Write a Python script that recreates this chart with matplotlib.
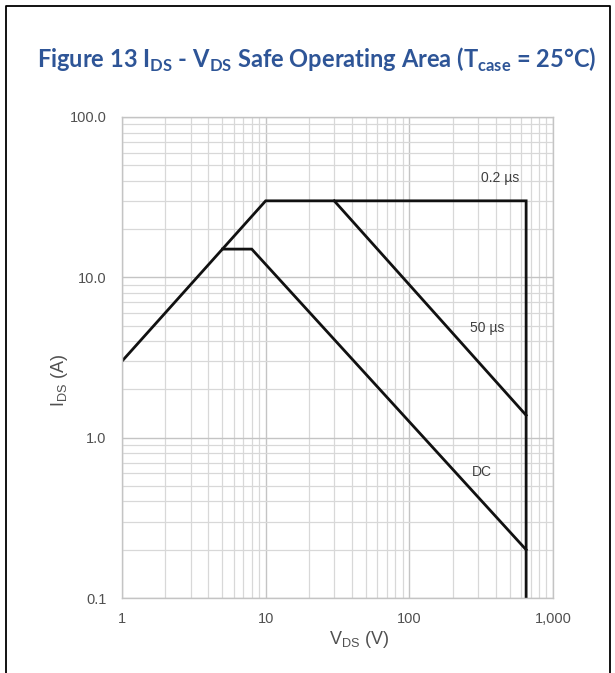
import matplotlib
matplotlib.use('Agg')
import matplotlib.pyplot as plt
from matplotlib.lines import Line2D
from matplotlib.ticker import FixedLocator, FixedFormatter, NullFormatter, LogLocator

plt.rcParams['mathtext.fontset'] = 'custom'
plt.rcParams['mathtext.rm'] = 'Liberation Sans'
plt.rcParams['mathtext.bf'] = 'Lato:bold'

# SOA curves
limit_v = [1, 10, 650, 650]      # 0.2 us / outer limit
limit_i = [3, 30, 30, 0.1]
pulse50_v = [30, 650]            # 50 us
pulse50_i = [30, 1.38]
dc_v = [5, 8, 650]               # DC
dc_i = [15, 15, 0.2]

x_ticks = [1, 10, 100, 1000]
x_ticklabels = ['1', '10', '100', '1,000']
y_ticks = [0.1, 1, 10, 100]
y_ticklabels = ['0.1', '1.0', '10.0', '100.0']

curve_labels = ['0.2 µs', '50 µs', 'DC']
label_pos = [(427, 41.6), (347, 4.83), (320, 0.61)]

fig = plt.figure(figsize=(6.15, 6.73), dpi=100)
ax = fig.add_axes([122/615, 1-598/673, 431/615, 481/673])

ax.set_xscale('log')
ax.set_yscale('log')
ax.set_xlim(1, 1000)
ax.set_ylim(0.1, 100)

ax.plot(limit_v, limit_i, color='#111111', lw=2.0, solid_joinstyle='miter')
ax.plot(pulse50_v, pulse50_i, color='#111111', lw=2.0)
ax.plot(dc_v, dc_i, color='#111111', lw=2.0, solid_joinstyle='miter')

for txt, (xx, yy) in zip(curve_labels, label_pos):
    ax.text(xx, yy, txt, fontsize=10, color='#404040', family='Liberation Sans',
            ha='center', va='center')

ax.xaxis.set_major_locator(FixedLocator(x_ticks))
ax.xaxis.set_major_formatter(FixedFormatter(x_ticklabels))
ax.yaxis.set_major_locator(FixedLocator(y_ticks))
ax.yaxis.set_major_formatter(FixedFormatter(y_ticklabels))
ax.xaxis.set_minor_locator(LogLocator(base=10, subs=range(2, 10)))
ax.yaxis.set_minor_locator(LogLocator(base=10, subs=range(2, 10)))
ax.xaxis.set_minor_formatter(NullFormatter())
ax.yaxis.set_minor_formatter(NullFormatter())

ax.grid(which='major', color='#c4c4c4', lw=1.0)
ax.grid(which='minor', color='#d8d8d8', lw=0.9)
ax.set_axisbelow(True)
ax.tick_params(which='both', length=0)
ax.tick_params(axis='x', pad=10, labelsize=10.5, labelcolor='#505050')
ax.tick_params(axis='y', pad=11, labelsize=10.5, labelcolor='#505050')
for lab in ax.get_xticklabels() + ax.get_yticklabels():
    lab.set_family('Liberation Sans')
for s in ax.spines.values():
    s.set_color('#c4c4c4')
    s.set_linewidth(1.0)

fig.text(359/615, 1-640/673, r'V$_{\mathrm{DS}}$ (V)', fontsize=13, color='#505050',
         family='Liberation Sans', ha='center', va='center')
fig.text(60/615, 1-380/673, r'I$_{\mathrm{DS}}$ (A)', fontsize=13, color='#505050',
         family='Liberation Sans', ha='center', va='center', rotation=90)

fig.text(317/615, 1-60/673,
         r'Figure 13 I$_{\mathbf{DS}}$ - V$_{\mathbf{DS}}$ Safe Operating Area (T$_{\mathbf{case}}$ = 25°C)',
         fontsize=17, color='#2E5597', family='Lato', weight='bold',
         ha='center', va='center')

# frame around the figure (open at bottom)
fx0, fx1, fy1 = 6/615, 610/615, 1-6/673
fig.add_artist(Line2D([fx0, fx0, fx1, fx1], [0, fy1, fy1, 0],
                      transform=fig.transFigure, color='black', lw=1.3))

fig.savefig('out.png', dpi=100)
